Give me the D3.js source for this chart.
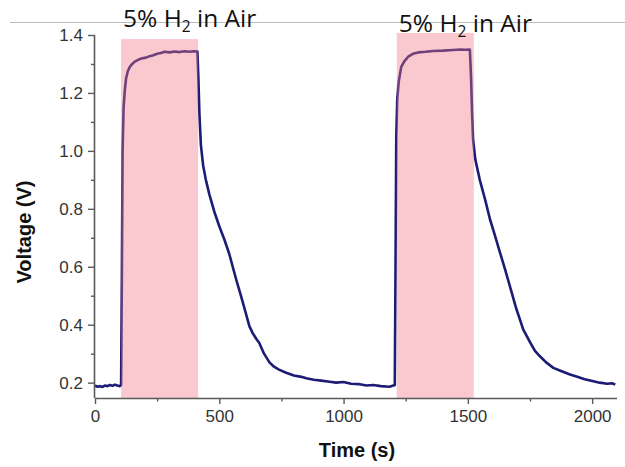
<!DOCTYPE html>
<html>
<head>
<meta charset="utf-8">
<script src="https://cdn.jsdelivr.net/npm/d3@7"></script>
<style>
  html, body { margin: 0; padding: 0; background: #fff; }
  svg { display: block; }
</style>
</head>
<body>
<svg id="chart" width="625" height="467"></svg>
<script>
// ---- data ----
const timeS = [
  0, 10, 20, 30, 40, 50, 60, 70, 80, 90, 100, 105,
  108, 111, 115, 120, 125, 132, 140, 150, 160, 175, 190, 205, 220, 235, 250, 265, 280, 300, 320, 340, 360, 380, 400, 412,
  416, 420, 426, 435, 446, 460, 480, 500, 520, 540, 554, 570, 587, 605, 621, 635, 650, 661, 680, 702, 720, 740, 769, 800, 830, 850, 880, 910, 944, 970, 1000, 1030, 1060, 1092, 1120, 1150, 1185, 1200, 1206,
  1209, 1212, 1216, 1222, 1232, 1245, 1260, 1279, 1300, 1330, 1360, 1400, 1440, 1470, 1490, 1508,
  1513, 1517, 1521, 1530, 1548, 1570, 1589, 1610, 1629, 1650, 1669, 1695, 1723, 1750, 1770, 1790, 1815, 1844, 1875, 1911, 1940, 1970, 2005, 2030, 2060, 2080, 2093
];
const voltageV = [
  0.190, 0.186, 0.188, 0.185, 0.190, 0.188, 0.192, 0.189, 0.193, 0.190, 0.188, 0.192,
  0.55, 1.00, 1.15, 1.21, 1.25, 1.275, 1.29, 1.300, 1.308, 1.315, 1.320, 1.322, 1.327, 1.330, 1.335, 1.338, 1.342, 1.340, 1.343, 1.341, 1.344, 1.342, 1.344, 1.343,
  1.25, 1.13, 1.02, 0.95, 0.90, 0.85, 0.79, 0.74, 0.695, 0.645, 0.60, 0.55, 0.50, 0.445, 0.395, 0.37, 0.35, 0.337, 0.30, 0.27, 0.255, 0.245, 0.234, 0.225, 0.220, 0.215, 0.210, 0.207, 0.203, 0.200, 0.202, 0.196, 0.195, 0.190, 0.192, 0.188, 0.186, 0.190, 0.191,
  0.60, 1.05, 1.18, 1.24, 1.29, 1.31, 1.325, 1.335, 1.340, 1.342, 1.345, 1.346, 1.348, 1.350, 1.349, 1.350,
  1.25, 1.13, 1.04, 0.97, 0.90, 0.83, 0.764, 0.705, 0.65, 0.59, 0.533, 0.455, 0.383, 0.34, 0.31, 0.291, 0.27, 0.251, 0.240, 0.228, 0.220, 0.212, 0.205, 0.200, 0.196, 0.198, 0.193
];
const shadeStart = [105, 1214];
const shadeEnd = [415, 1524];
const shadeTop = [1.386, 1.407];
const shadeLabels = ["5% H", "5% H"];
const xTicks = [0, 500, 1000, 1500, 2000];
const xMinorTicks = [250, 750, 1250, 1750];
const yTicks = [0.2, 0.4, 0.6, 0.8, 1.0, 1.2, 1.4];
const yMinorTicks = [0.3, 0.5, 0.7, 0.9, 1.1, 1.3];
const xTitle = "Time (s)";
const yTitle = "Voltage (V)";

// ---- drawing ----
const svg = d3.select("#chart");
const x = d3.scaleLinear().domain([0, 2100]).range([95, 617]);
const y = d3.scaleLinear().domain([0.147, 1.4]).range([398, 35]);

// top grey rule
svg.append("line").attr("x1", 10).attr("x2", 625).attr("y1", 22.5).attr("y2", 22.5)
  .attr("stroke", "#bdbdbd").attr("stroke-width", 1);

const pts = timeS.map((t, i) => [t, voltageV[i]]);
const line = d3.line().x(d => x(d[0])).y(d => y(d[1]));
svg.append("path").datum(pts).attr("d", line)
  .attr("fill", "none").attr("stroke", "#1c1c74").attr("stroke-width", 2.6)
  .attr("stroke-linejoin", "round");

// shaded exposure windows (translucent, over the trace)
svg.selectAll("rect.shade").data(shadeStart).enter().append("rect")
  .attr("class", "shade")
  .attr("x", (d) => x(d))
  .attr("width", (d, i) => x(shadeEnd[i]) - x(d))
  .attr("y", (d, i) => y(shadeTop[i]))
  .attr("height", (d, i) => y(0.147) - y(shadeTop[i]))
  .attr("fill", "rgb(240,120,135)").attr("fill-opacity", 0.4);

// labels over shading
const labelBase = [27, 32];
shadeStart.forEach((s, i) => {
  const t = svg.append("text")
    .attr("x", x(s) + 2).attr("y", labelBase[i])
    .attr("font-family", "'Open Sans', sans-serif").attr("font-size", 24.5)
    .attr("fill", "#111");
  t.append("tspan").text(shadeLabels[i]);
  t.append("tspan").attr("font-size", 15.5).attr("dy", 5).text("2");
  t.append("tspan").attr("dy", -5).text(" in Air");
});

// axes
const axisColor = "#5a5a5a";
const xAxis = svg.append("g").attr("transform", "translate(0,398)")
  .call(d3.axisBottom(x).tickValues(xTicks).tickFormat(d3.format("d")).tickSizeOuter(0).tickSizeInner(6).tickPadding(6));
const xMinor = svg.append("g").attr("transform", "translate(0,398)")
  .call(d3.axisBottom(x).tickValues(xMinorTicks).tickFormat("").tickSizeOuter(0).tickSizeInner(3.5));
xMinor.select(".domain").remove();

const yAxis = svg.append("g").attr("transform", "translate(95,0)")
  .call(d3.axisLeft(y).tickValues(yTicks).tickFormat(d3.format(".1f")).tickSizeOuter(0).tickSizeInner(7).tickPadding(5));
const yMinor = svg.append("g").attr("transform", "translate(95,0)")
  .call(d3.axisLeft(y).tickValues(yMinorTicks).tickFormat("").tickSizeOuter(0).tickSizeInner(4));
yMinor.select(".domain").remove();

[xAxis, yAxis, xMinor, yMinor].forEach(g => {
  g.selectAll(".domain").attr("stroke", axisColor).attr("stroke-width", 1.6);
  g.selectAll(".tick line").attr("stroke", axisColor).attr("stroke-width", 1.4);
  g.selectAll(".tick text").attr("fill", "#333")
    .attr("font-family", "'Liberation Sans', Arial, sans-serif").attr("font-size", 17);
});
// x-axis domain extends to right edge
xAxis.select(".domain").attr("d", `M${x(0)},0.5H${x(2100)}`);
yAxis.select(".domain").attr("d", `M-0.5,${y(0.147)}V${y(1.4)}`);

// titles
svg.append("text").attr("x", 357).attr("y", 457).attr("text-anchor", "middle")
  .attr("font-family", "'Liberation Sans', Arial, sans-serif").attr("font-weight", "bold")
  .attr("font-size", 20).attr("fill", "#111").text(xTitle);
svg.append("text").attr("transform", "translate(31,232) rotate(-90)").attr("text-anchor", "middle")
  .attr("font-family", "'Liberation Sans', Arial, sans-serif").attr("font-weight", "bold")
  .attr("font-size", 20).attr("fill", "#111").text(yTitle);
</script>
</body>
</html>
